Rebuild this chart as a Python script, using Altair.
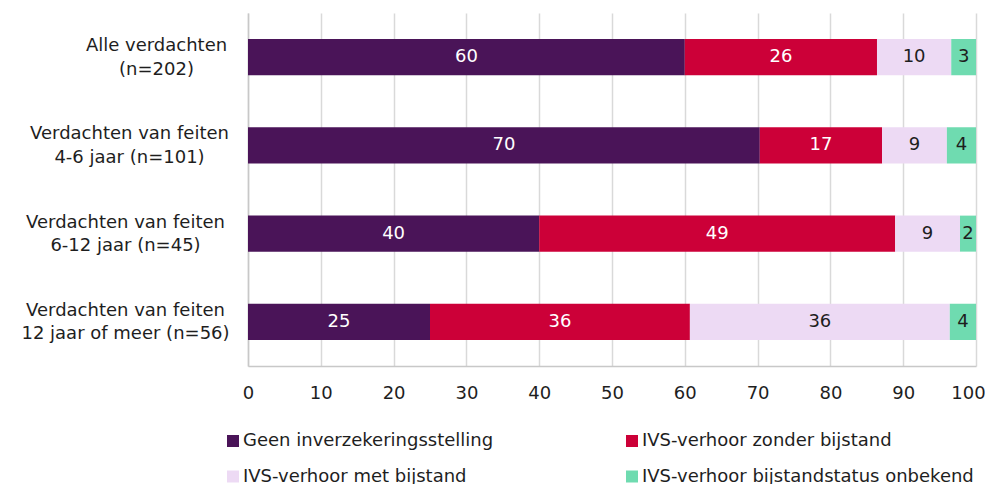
import altair as alt
import pandas as pd

categories = [
    "Alle verdachten|(n=202)",
    "Verdachten van feiten|4-6 jaar (n=101)",
    "Verdachten van feiten|6-12 jaar (n=45)",
    "Verdachten van feiten|12 jaar of meer (n=56)",
]
series = [
    "Geen inverzekeringsstelling",
    "IVS-verhoor zonder bijstand",
    "IVS-verhoor met bijstand",
    "IVS-verhoor bijstandstatus onbekend",
]
geen = [60.0, 70.3, 40.0, 25.0]
zonder = [26.4, 16.8, 48.9, 35.7]
met = [10.2, 8.9, 8.9, 35.7]
onbekend = [3.4, 4.0, 2.2, 3.6]
colors = ["#4a1458", "#cc0038", "#eddaf4", "#6fdbb0"]
x_ticks = list(range(0, 101, 10))

rows = []
for s_i, (s, vals) in enumerate(zip(series, [geen, zonder, met, onbekend])):
    for c, v in zip(categories, vals):
        rows.append({"categorie": c, "reeks": s, "volgorde": s_i, "waarde": v})
df = pd.DataFrame(rows)

FONT = "DejaVu Sans"
TXT = "#1e1e1e"

base = alt.Chart(df).transform_stack(
    stack="waarde",
    groupby=["categorie"],
    as_=["x0", "x1"],
    sort=[alt.SortField("volgorde", order="ascending")],
).transform_calculate(mid="(datum.x0 + datum.x1) / 2")

y_enc = alt.Y(
    "categorie:N",
    sort=categories,
    scale=alt.Scale(paddingInner=0.592, paddingOuter=0.296),
    axis=alt.Axis(
        title=None,
        labelExpr="split(datum.label, '|')",
        labelFont=FONT,
        labelFontSize=18,
        labelColor=TXT,
        labelAlign="center",
        labelBaseline="middle",
        labelLineHeight=23.5,
        labelOffset=-11,
        labelPadding={
            "condition": [
                {"test": "indexof(datum.value, 'Alle') == 0", "value": 92},
                {"test": "indexof(datum.value, '12 jaar') >= 0", "value": 123},
            ],
            "value": 119,
        },
        labelLimit=0,
        ticks=False,
        grid=False,
        domainColor="#c8c8c8",
        domainWidth=1.5,
    ),
)

bars = base.mark_bar().encode(
    x=alt.X(
        "x0:Q",
        scale=alt.Scale(domain=[0, 100], nice=False),
        axis=alt.Axis(
            title=None,
            values=x_ticks,
            labelFont=FONT,
            labelFontSize=18,
            labelColor=TXT,
            labelPadding=18,
            labelFlush=False,
            labelOffset={
                "condition": {"test": "datum.value == 100", "value": -8},
                "value": 0,
            },
            ticks=False,
            grid=True,
            gridColor="#d9d9d9",
            gridWidth=1.5,
            domainColor="#c8c8c8",
            domainWidth=1.5,
        ),
    ),
    x2="x1:Q",
    y=y_enc,
    color=alt.Color(
        "reeks:N",
        scale=alt.Scale(domain=series, range=colors),
        legend=alt.Legend(
            title=None,
            orient="none",
            direction="horizontal",
            legendX=-24,
            legendY=419,
            columns=2,
            symbolType="square",
            symbolSize=144,
            symbolStrokeWidth=0,
            labelFont=FONT,
            labelFontSize=18,
            labelColor=TXT,
            labelOffset=1,
            labelLimit=0,
            columnPadding=129,
            rowPadding=17.5,
        ),
    ),
)

labels = base.mark_text(font=FONT, fontSize=18, baseline="middle").encode(
    x="mid:Q",
    y=alt.Y("categorie:N", sort=categories),
    text=alt.Text("waarde:Q", format=".0f"),
    color=alt.condition("datum.volgorde < 2", alt.value("white"), alt.value(TXT)),
)

chart = (
    alt.layer(bars, labels)
    .properties(
        width=728,
        height=353,
        autosize=alt.AutoSizeParams(type="none"),
        padding={"left": 240, "top": 5, "right": 9, "bottom": 120},
        background="white",
    )
    .configure_view(stroke=None)
)

chart.save("out.html", embed_options={"renderer": "svg", "actions": False})
